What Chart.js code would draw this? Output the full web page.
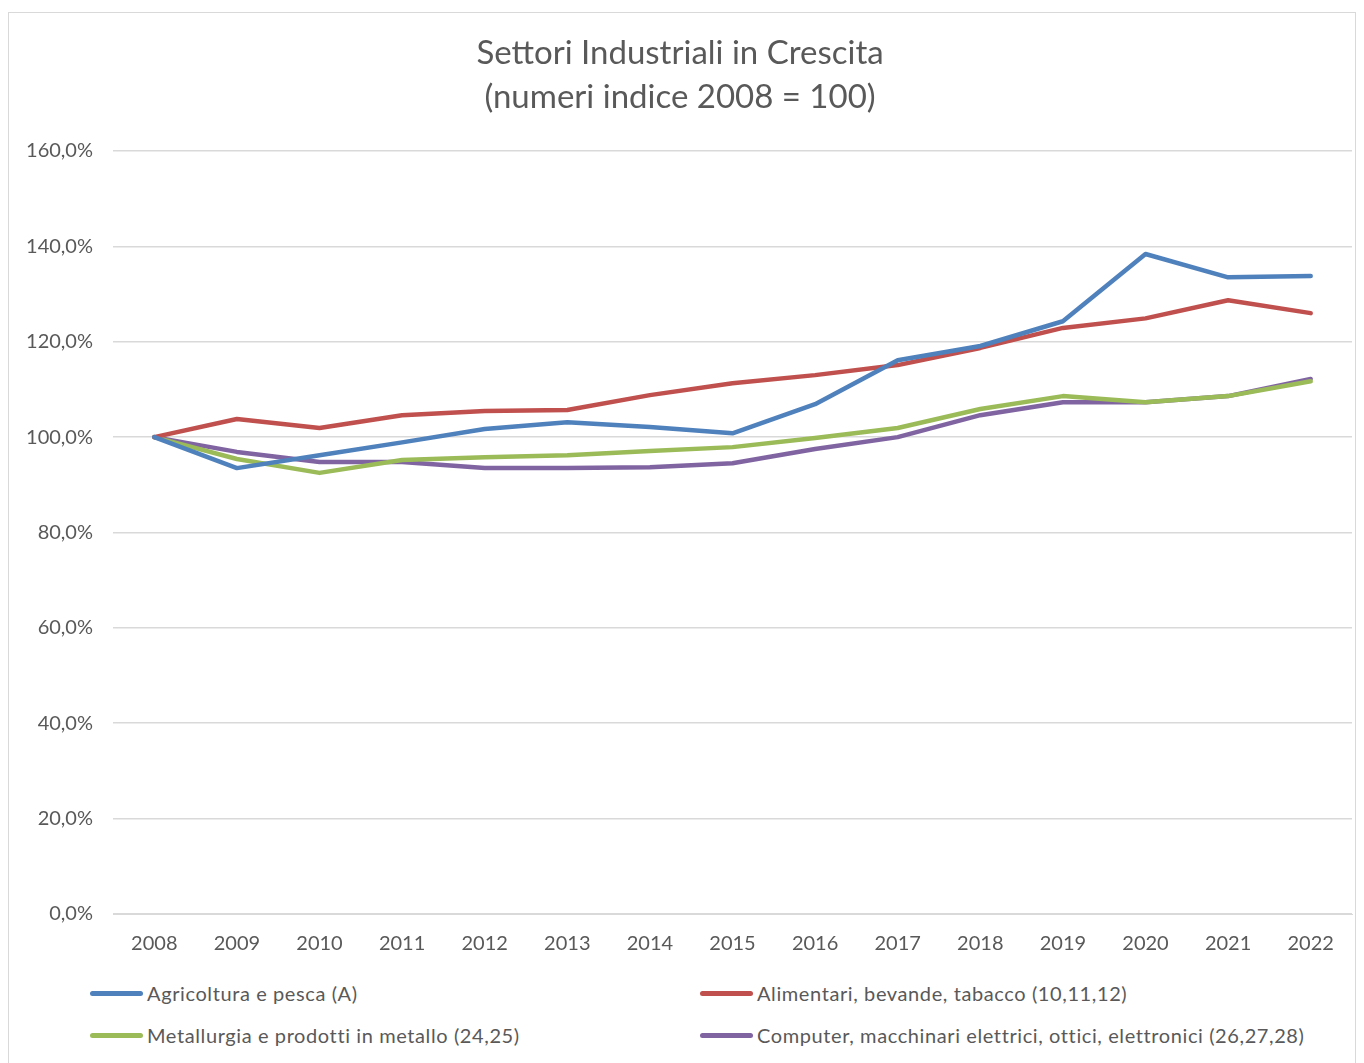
<!DOCTYPE html>
<html>
<head>
<meta charset="utf-8">
<script src="https://cdn.jsdelivr.net/npm/chart.js@4/dist/chart.umd.min.js"></script>
<style>
  html, body { margin: 0; padding: 0; background: #fff; }
  body { width: 1364px; height: 1063px; position: relative; overflow: hidden; font-family: Lato, sans-serif; }
  #box { position: absolute; left: 8px; top: 12px; width: 1348px; height: 1060px; border: 1px solid #d9d9d9; box-sizing: border-box; }
  #wrap { position: absolute; left: 8px; top: 12px; width: 1348px; height: 954px; }
  #legend { position: absolute; left: 0; top: 972px; width: 1364px; height: 90px; }
  .item { position: absolute; display: flex; align-items: center; font-size: 20px; color: #595959; white-space: nowrap; letter-spacing: 0.6px; }
  .swatch { width: 53px; height: 5px; border-radius: 3px; margin-right: 4px; }
</style>
</head>
<body>
<div id="box"></div>
<div id="wrap"><canvas id="chart-settori"></canvas></div>
<div id="legend"></div>
<script>
const anni = ["2008", "2009", "2010", "2011", "2012", "2013", "2014", "2015", "2016", "2017", "2018", "2019", "2020", "2021", "2022"];

const agricoltura = [100, 93.5, 96.2, 98.9, 101.7, 103.1, 102.1, 100.8, 106.9, 116.1, 119.1, 124.3, 138.4, 133.5, 133.8];
const alimentari = [100, 103.8, 101.9, 104.6, 105.5, 105.7, 108.8, 111.3, 113.0, 115.1, 118.7, 122.9, 124.9, 128.7, 126.0];
const metallurgia = [100, 95.4, 92.5, 95.2, 95.8, 96.2, 97.1, 97.9, 99.8, 101.9, 105.9, 108.6, 107.3, 108.6, 111.7];
const computer = [100, 96.9, 94.8, 94.8, 93.5, 93.5, 93.7, 94.5, 97.5, 100.0, 104.6, 107.3, 107.3, 108.6, 112.2];

const nomi = [
    "Agricoltura e pesca (A)",
    "Alimentari, bevande, tabacco (10,11,12)",
    "Metallurgia e prodotti in metallo (24,25)",
    "Computer, macchinari elettrici, ottici, elettronici (26,27,28)",
];
const colori = ["#4f81bd", "#c0504d", "#9bbb59", "#8064a2"];
const serie = [agricoltura, alimentari, metallurgia, computer];

const testo = "#595959";

const settori = document.getElementById("chart-settori");

const dataSettori = {
    labels: anni,
    datasets: serie.map((valori, i) => ({
        label: nomi[i],
        data: valori,
        borderColor: colori[i],
        backgroundColor: colori[i],
        borderWidth: 4.5,
        pointRadius: 0,
        tension: 0,
        borderCapStyle: "round",
        borderJoinStyle: "round",
    })),
};

const configSettori = {
    type: "line",
    data: dataSettori,
    options: {
        responsive: false,
        animation: false,
        devicePixelRatio: 1,
        layout: { padding: { right: 4, bottom: 0 } },
        plugins: {
            legend: { display: false },
            tooltip: { enabled: false },
            title: {
                display: true,
                text: ["Settori Industriali in Crescita", "(numeri indice 2008 = 100)"],
                color: testo,
                font: { family: "Lato", size: 33, weight: "normal", lineHeight: 1.333 },
                padding: { top: 19, bottom: 32 },
            },
        },
        scales: {
            x: {
                offset: true,
                grid: { display: false },
                border: { display: true, color: "#d9d9d9", width: 1 },
                ticks: { color: testo, font: { family: "Lato", size: 20 }, padding: 10, maxRotation: 0 },
            },
            y: {
                min: 0,
                max: 160,
                grid: { color: "#d9d9d9", lineWidth: 1.5, drawTicks: false },
                border: { display: false },
                ticks: {
                    stepSize: 20,
                    color: testo,
                    font: { family: "Lato", size: 20 },
                    padding: 20,
                    callback: (v) => v.toFixed(1).replace(".", ",") + "%",
                },
                afterFit: (s) => { s.width = 105; },
            },
        },
    },
};

settori.width = 1348;
settori.height = 954;
const grafico = new Chart(settori, configSettori);

// legenda a due colonne, come nell'originale
const legenda = document.getElementById("legend");
const pos = [[90, 21], [700, 21], [90, 63], [700, 63]];
grafico.data.datasets.forEach((ds, i) => {
    const el = document.createElement("div");
    el.className = "item";
    el.style.left = pos[i][0] + "px";
    el.style.top = (pos[i][1] - 12) + "px";
    const sw = document.createElement("span");
    sw.className = "swatch";
    sw.style.background = ds.borderColor;
    const tx = document.createElement("span");
    tx.textContent = ds.label;
    el.appendChild(sw);
    el.appendChild(tx);
    legenda.appendChild(el);
});
</script>
</body>
</html>
